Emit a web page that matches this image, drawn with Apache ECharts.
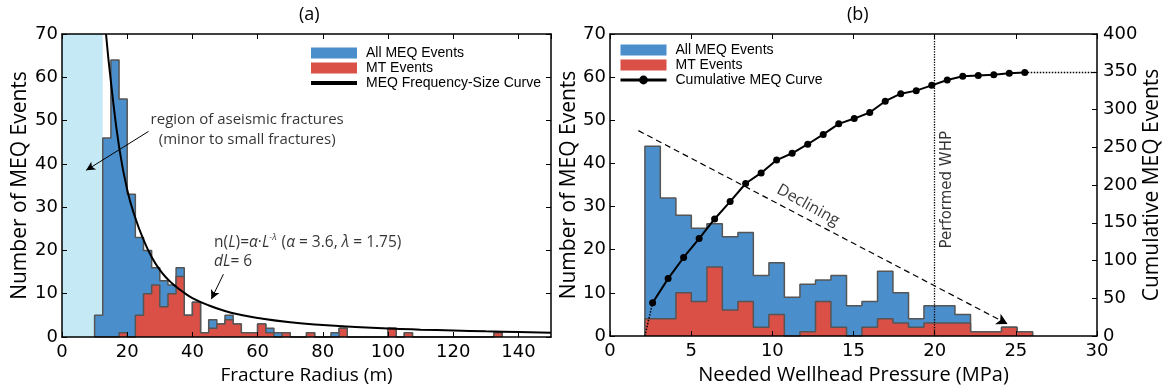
<!DOCTYPE html>
<html>
<head>
<meta charset="utf-8">
<script src="https://cdn.jsdelivr.net/npm/echarts@6/dist/echarts.min.js"></script>
<style>
  html, body { margin: 0; padding: 0; background: #fff; }
  #chart { width: 1169px; height: 390px; }
</style>
</head>
<body>
<div id="chart"></div>
<script>
// ---- (a) fracture radius histogram, 2.5 m bins from 10 m ----
const radiusBinStart = 10;
const radiusBinWidth = 2.5;
const radiusAllMEQ = [5, 46, 64, 55, 33, 23, 20, 16, 13, 12, 16, 5, 8, 1, 4, 3, 5, 3, 1, 1,
  3, 2, 1, 1, 0, 0, 1, 0, 0, 1, 2, 0, 0, 0, 0, 0, 2, 0, 1, 0,
  0, 0, 0, 0, 0, 0, 0, 0, 0, 1];
const radiusMT = [0, 0, 0, 1, 0, 5, 10, 12, 7, 10, 14, 5, 8, 1, 2, 3, 4, 3, 1, 1,
  3, 1, 0, 1, 0, 0, 1, 0, 0, 0, 2, 0, 0, 0, 0, 0, 2, 0, 1, 0,
  0, 0, 0, 0, 0, 0, 0, 0, 0, 1];
const aseismicLimit = 12.5;
// frequency-size curve
const curveRadius = [13.5, 15, 17.5, 20, 22.5, 25, 27.5, 30, 32.5, 35, 37.5, 40, 45, 50, 55, 60,
  70, 80, 90, 100, 110, 120, 130, 140, 150];
const curveCount = [70, 59, 44, 34, 27.5, 22.5, 18.5, 15.5, 13.3, 11.6, 10.2, 9.0, 7.3, 6.0, 5.1, 4.4,
  3.4, 2.75, 2.3, 1.95, 1.7, 1.5, 1.3, 1.15, 1.0];

// ---- (b) needed wellhead pressure histogram ----
const pressureEdges = [2.15, 3.1, 4.06, 5.01, 5.97, 6.92, 7.88, 8.83, 9.79, 10.74, 11.7, 12.66, 13.61,
  14.57, 15.52, 16.48, 17.43, 18.39, 19.34, 20.3, 21.25, 22.21, 23.16, 24.12, 25.07, 26.03];
const pressureAllMEQ = [44, 32, 28, 25, 26, 23, 24, 14, 17, 9, 12, 13, 14, 7, 8, 15, 10, 4, 7, 7, 5, 1, 1, 2, 1];
const pressureMT = [4, 4, 10, 8, 16, 6, 8, 2, 5, 0, 1, 8, 2, 0, 2, 4, 3, 2, 3, 3, 3, 1, 1, 2, 1];
const cumulativeMEQ = [44, 76, 104, 129, 155, 178, 202, 216, 233, 242, 254, 267, 281, 288, 296,
  311, 321, 325, 332, 339, 344, 345, 346, 348, 349];
const performedWHP = 20;

const BLUE = '#4a8fcc';
const RED = '#da5046';
const LIGHT = '#c6eaf5';
const EDGE = '#555555';

const radiusEdges = [];
for (let i = 0; i <= radiusAllMEQ.length; i++) radiusEdges.push(radiusBinStart + i * radiusBinWidth);
const pressureCenters = pressureAllMEQ.map((_, i) => (pressureEdges[i] + pressureEdges[i + 1]) / 2);

// step outline points for a filled histogram
function stepData(edges, counts) {
  const pts = [[edges[0], 0]];
  counts.forEach((c, i) => pts.push([edges[i], c]));
  pts.push([edges[edges.length - 1], 0]);
  return pts;
}

const chart = echarts.init(document.getElementById('chart'));

const frameLine = { show: true, onZero: false, lineStyle: { color: '#000', width: 1.5 } };
const inTick = { show: true, inside: true, length: 5, lineStyle: { color: '#000', width: 1 } };
const tickFont = { fontFamily: 'DejaVu Sans', fontSize: 18, color: '#000', margin: 6 };
const nameFont = { fontFamily: 'Open Sans', fontSize: 20, color: '#000' };
const noLabel = { show: false };

function histSeries(name, color, xi, yi, edges, counts, z) {
  return {
    name: name, type: 'line', xAxisIndex: xi, yAxisIndex: yi, step: 'end',
    data: stepData(edges, counts), symbol: 'none', z: z, silent: true,
    lineStyle: { color: EDGE, width: 1.5 },
    itemStyle: { color: color },
    areaStyle: { color: color, opacity: 1 }
  };
}

// thick bar icon: tiny corner dots keep the bounding box, the middle band is the line
const thickLineIcon = 'path://M0,0h0.01v0.01h-0.01z M0,3.6h46v3.8h-46z M45.99,10.99h0.01v0.01h-0.01z';
const legendText = { fontFamily: 'Liberation Sans', fontSize: 14, lineHeight: 12, color: '#000', padding: [0, 0, 0, 4] };

const option = {
  animation: false,
  backgroundColor: '#fff',
  title: [
    { text: '(a)', left: 294, top: 1, textStyle: { fontFamily: 'Open Sans', fontSize: 18, fontWeight: 'normal', color: '#000' } },
    { text: '(b)', left: 842, top: 1, textStyle: { fontFamily: 'Open Sans', fontSize: 18, fontWeight: 'normal', color: '#000' } }
  ],
  grid: [
    { left: 62, top: 34, width: 489, height: 304 },
    { left: 610, top: 34, width: 487, height: 303 }
  ],
  legend: [
    {
      left: 306, top: 41, orient: 'vertical', itemWidth: 46, itemHeight: 11, itemGap: 1,
      selectedMode: false, textStyle: legendText, itemStyle: { borderWidth: 0 },
      data: [
        { name: 'All MEQ Events', icon: 'rect', itemStyle: { color: BLUE, borderWidth: 0 } },
        { name: 'MT Events', icon: 'rect', itemStyle: { color: RED, borderWidth: 0 } },
        { name: 'MEQ Frequency-Size Curve', icon: thickLineIcon, itemStyle: { color: '#000', borderWidth: 0 } }
      ]
    },
    {
      left: 614, top: 38, orient: 'vertical', itemWidth: 46, itemHeight: 11, itemGap: 1,
      selectedMode: false, textStyle: legendText, itemStyle: { borderWidth: 0 },
      data: [
        { name: 'All MEQ Events', icon: 'rect', itemStyle: { color: BLUE, borderWidth: 0 } },
        { name: 'MT Events', icon: 'rect', itemStyle: { color: RED, borderWidth: 0 } },
        { name: 'Cumulative MEQ Curve', lineStyle: { color: '#000', width: 3 } }
      ]
    }
  ],
  xAxis: [
    {
      gridIndex: 0, type: 'value', min: 0, max: 150, interval: 20, position: 'bottom', z: 10,
      axisLine: frameLine, axisTick: inTick, splitLine: { show: false },
      axisLabel: Object.assign({ showMaxLabel: false }, tickFont),
      name: 'Fracture Radius (m)', nameLocation: 'middle', nameGap: 29,
      nameTextStyle: Object.assign({}, nameFont, { fontSize: 19 })
    },
    {
      gridIndex: 0, type: 'value', min: 0, max: 150, interval: 20, position: 'top', z: 10,
      axisLine: frameLine, axisTick: inTick, splitLine: { show: false }, axisLabel: noLabel
    },
    {
      gridIndex: 1, type: 'value', min: 0, max: 30, interval: 5, position: 'bottom', z: 10,
      axisLine: frameLine, axisTick: inTick, splitLine: { show: false }, axisLabel: tickFont,
      name: 'Needed Wellhead Pressure (MPa)', nameLocation: 'middle', nameGap: 29, nameTextStyle: nameFont
    },
    {
      gridIndex: 1, type: 'value', min: 0, max: 30, interval: 5, position: 'top', z: 10,
      axisLine: frameLine, axisTick: inTick, splitLine: { show: false }, axisLabel: noLabel
    }
  ],
  yAxis: [
    {
      gridIndex: 0, type: 'value', min: 0, max: 70, interval: 10, position: 'left', z: 10,
      axisLine: frameLine, axisTick: inTick, splitLine: { show: false },
      axisLabel: Object.assign({}, tickFont, { margin: 4 }),
      name: 'Number of MEQ Events', nameLocation: 'middle', nameGap: 31,
      nameTextStyle: Object.assign({}, nameFont, { fontSize: 21 })
    },
    {
      gridIndex: 0, type: 'value', min: 0, max: 70, interval: 10, position: 'right', z: 10,
      axisLine: frameLine, axisTick: inTick, splitLine: { show: false }, axisLabel: noLabel
    },
    {
      gridIndex: 1, type: 'value', min: 0, max: 70, interval: 10, position: 'left', z: 10,
      axisLine: frameLine, axisTick: inTick, splitLine: { show: false },
      axisLabel: Object.assign({}, tickFont, { margin: 4 }),
      name: 'Number of MEQ Events', nameLocation: 'middle', nameGap: 27,
      nameTextStyle: Object.assign({}, nameFont, { fontSize: 21 })
    },
    {
      gridIndex: 1, type: 'value', min: 0, max: 400, interval: 50, position: 'right', z: 10,
      axisLine: frameLine, axisTick: inTick, splitLine: { show: false }, axisLabel: tickFont,
      name: 'Cumulative MEQ Events', nameLocation: 'middle', nameGap: 44,
      nameTextStyle: Object.assign({}, nameFont, { fontSize: 21 })
    }
  ],
  series: [
    // ---- panel (a) ----
    Object.assign(histSeries('All MEQ Events', BLUE, 0, 0, radiusEdges, radiusAllMEQ, 2), {
      markArea: { silent: true, itemStyle: { color: LIGHT }, data: [[{ xAxis: 0 }, { xAxis: aseismicLimit }]] }
    }),
    histSeries('MT Events', RED, 0, 0, radiusEdges, radiusMT, 3),
    {
      name: 'MEQ Frequency-Size Curve', type: 'line', xAxisIndex: 0, yAxisIndex: 0, z: 4,
      data: curveRadius.map((r, i) => [r, curveCount[i]]), smooth: true,
      symbol: 'none', lineStyle: { color: '#000', width: 2 }, itemStyle: { color: '#000' }, silent: true
    },
    {
      type: 'scatter', xAxisIndex: 0, yAxisIndex: 0, z: 6, silent: true, symbolSize: 1,
      itemStyle: { color: 'transparent' },
      data: [
        {
          value: [56.8, 47.9],
          label: {
            show: true, position: 'inside', align: 'center', verticalAlign: 'middle',
            formatter: 'region of aseismic fractures\n(minor to small fractures)',
            fontFamily: 'Open Sans', fontSize: 15, lineHeight: 20, color: '#000'
          }
        },
        {
          value: [46.5, 19.7],
          label: {
            show: true, position: 'right', distance: 0, color: '#000',
            formatter: '{t|n(}{i|L}{t|)=}{i|α}{t|·}{i|L}{s|-λ}{t| (}{i|α}{t| = 3.6, }{i|λ}{t| = 1.75)}\n{i|dL}{t|= 6}',
            rich: {
              t: { fontFamily: 'Open Sans', fontSize: 15.5, lineHeight: 19, color: '#000' },
              i: { fontFamily: 'Open Sans', fontStyle: 'italic', fontSize: 15.5, lineHeight: 19, color: '#000' },
              s: { fontFamily: 'Open Sans', fontStyle: 'italic', fontSize: 9, lineHeight: 19, padding: [0, 1, 9, 0], color: '#000' }
            }
          }
        }
      ],
      markLine: {
        silent: true, symbol: ['none', 'arrow'], symbolSize: [7, 9], label: { show: false },
        lineStyle: { color: '#000', width: 1, type: 'solid' },
        data: [
          [{ coord: [26.55, 47.5] }, { coord: [7.4, 38.5] }],
          [{ coord: [49.5, 14.5] }, { coord: [45.8, 8.75] }]
        ]
      }
    },
    // ---- panel (b) ----
    Object.assign(histSeries('All MEQ Events', BLUE, 2, 2, pressureEdges, pressureAllMEQ, 2), {
      markLine: {
        silent: true, symbol: 'none', label: { show: false },
        lineStyle: { type: 'dotted', width: 1.3, color: '#000' },
        data: [{ xAxis: performedWHP }]
      }
    }),
    histSeries('MT Events', RED, 2, 2, pressureEdges, pressureMT, 3),
    {
      name: 'Cumulative MEQ Curve', type: 'line', xAxisIndex: 2, yAxisIndex: 3, z: 5,
      data: pressureCenters.map((p, i) => [p, cumulativeMEQ[i]]),
      symbol: 'circle', symbolSize: 7, lineStyle: { color: '#000', width: 2 }, itemStyle: { color: '#000' }, silent: true
    },
    {
      type: 'line', xAxisIndex: 2, yAxisIndex: 3, z: 5, symbol: 'none', silent: true,
      lineStyle: { color: '#000', width: 1.5, type: 'dotted' },
      data: [[pressureEdges[0], 0], [pressureCenters[0], cumulativeMEQ[0]]]
    },
    {
      type: 'line', xAxisIndex: 2, yAxisIndex: 3, z: 5, symbol: 'none', silent: true,
      lineStyle: { color: '#000', width: 1.5, type: 'dotted' },
      data: [[pressureCenters[pressureCenters.length - 1], cumulativeMEQ[cumulativeMEQ.length - 1]],
             [30, cumulativeMEQ[cumulativeMEQ.length - 1]]]
    },
    {
      type: 'scatter', xAxisIndex: 2, yAxisIndex: 2, z: 6, silent: true, symbolSize: 1,
      itemStyle: { color: 'transparent' },
      data: [
        {
          value: [20.75, 33.9],
          label: { show: true, position: 'inside', rotate: 90, formatter: 'Performed WHP',
            fontFamily: 'DejaVu Sans', fontSize: 15, color: '#000' }
        },
        {
          value: [12.2, 30.3],
          label: { show: true, position: 'inside', rotate: -29, formatter: 'Declining',
            fontFamily: 'Open Sans', fontSize: 16, color: '#000' }
        }
      ],
      markLine: {
        silent: true, symbol: ['none', 'arrow'], symbolSize: [9, 11], label: { show: false },
        lineStyle: { color: '#000', width: 1.2, type: [6, 4] },
        data: [
          [{ coord: [1.75, 47.6] }, { coord: [24.49, 2.77] }]
        ]
      }
    }
  ]
};

chart.setOption(option);
</script>
</body>
</html>
